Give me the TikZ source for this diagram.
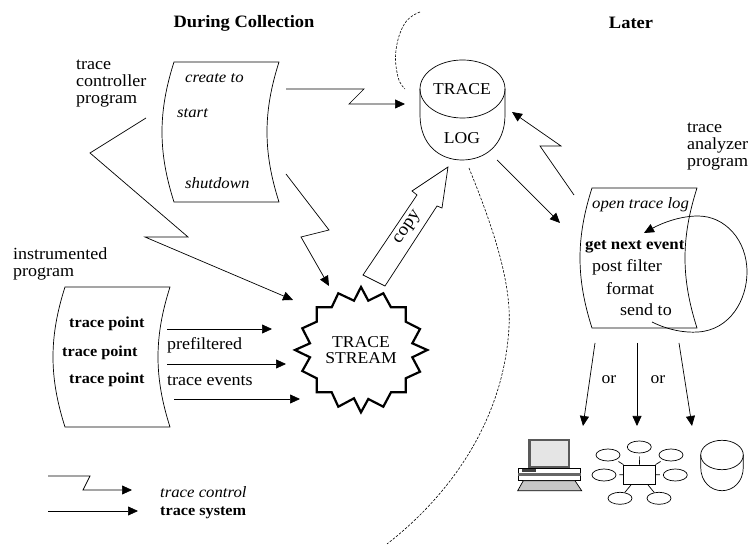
\documentclass[tikz,border=0pt]{standalone}
\usepackage{fontspec}
\setmainfont[FakeStretch=1.06]{Liberation Serif}
\usetikzlibrary{arrows.meta}
\usetikzlibrary{shapes.geometric}
\tikzset{
	lbl/.style={inner sep=0pt,anchor=west,align=left,font=\fontsize{17}{17}\selectfont},
	lblc/.style={inner sep=0pt,align=center,font=\fontsize{16.6}{16}\selectfont},
	lbli/.style={lbl,font=\fontsize{15.8}{17}\selectfont\itshape},
	lblb/.style={lbl,font=\fontsize{15.3}{17}\selectfont\bfseries},
	titulo/.style={inner sep=0pt,font=\fontsize{17.4}{17}\selectfont\bfseries},
	flecha/.style={line width=.7pt,-{Triangle[length=10pt,width=9pt]}},
	sat/.style={ellipse,draw,line width=.7pt,inner sep=0pt,minimum width=24pt,minimum height=12pt},
}
\newcommand{\docshape}[2]{%
	\draw[line width=.7pt,shift={(#1,#2)}] (0,0) -- (105,0) .. controls (89,50) and (89,90) .. (105,140) -- (0,140) .. controls (-16,90) and (-16,50) .. (0,0) -- cycle;}
\begin{document}
\begin{tikzpicture}[x=1pt,y=-1pt]
		\useasboundingbox (0,0) rectangle (753,545);
		\node[titulo] (during) at (244,23) {During Collection};
		\node[titulo] (later) at (631,23) {Later};
		\docshape{174}{62} % trace controller
		\docshape{65}{287} % instrumented
		\docshape{592}{188} % analyzer
		\node[lbl] (ctrlname) at (76,84) {trace\\controller\\program};
		\node[lbl] (instname) at (13,264) {instrumented\\program};
		\node[lbl] (ananame) at (687,147) {trace\\analyzer\\program};
		\node[lbli] (createto) at (185,78) {create to};
		\node[lbli] (start) at (177,113) {start};
		\node[lbli] (shutdown) at (185,183) {shutdown};
		\node[lblb] (pointa) at (69,324) {trace point};
		\node[lblb] (pointb) at (62,353) {trace point};
		\node[lblb] (pointc) at (69,380) {trace point};
		\node[lbl] (prefilt) at (167,345) {prefiltered};
		\node[lbl] (events) at (167,381) {trace events};
		\node[lbli] (opentrace) at (592,205) {open trace log};
		\node[lblb,font=\fontsize{15.9}{17}\selectfont\bfseries] (getnext) at (585,247) {get next event};
		\node[lbl] (postfilt) at (592,267) {post filter};
		\node[lbl] (format) at (606,289) {format};
		\node[lbl] (sendto) at (620,310) {send to};
		% trace log
		\draw[line width=.7pt] (420,89) -- (420,115) .. controls (420,145) and (440,160) .. (462,160) .. controls (485,160) and (505,145) .. (505,115) -- (505,89);
		\draw[line width=.7pt] (462.5,89) ellipse [x radius=42.5pt,y radius=29pt];
		\node[lblc] (tracetxt) at (462,89) {TRACE};
		\node[lblc] (logtxt) at (462,138) {LOG};
		% trace stream
		\draw[line width=2.2pt,line join=miter] plot coordinates {(361,287) (368.3,300.7) (383.3,293.3) (391,307.3) (405.7,307.3) (405.7,321.7) (420,329) (412.3,343.3) (427.3,350) (412.3,357.3) (420,371.7) (405.7,378.3) (405.7,392.3) (391,392.3) (383.3,406.7) (368.3,399) (361,412.3) (354,398.3) (338.3,406.7) (331.7,392.3) (316.7,392.3) (316.7,378.3) (302.3,371) (310,357.3) (295,350) (310,343.3) (302.3,328.3) (316.7,321.7) (316.7,307.3) (331.7,307.3) (338.3,293.3) (354,300.7)} -- cycle;
		\node[lblc] (stream) at (361,350) {TRACE\\STREAM};
		% ends of connectors
		\coordinate (ctrla) at (286,89);
		\coordinate (loga) at (405,104);
		\coordinate (ctrlb) at (146,118);
		\coordinate (stra) at (293,300);
		\coordinate (ctrlc) at (286,174);
		\coordinate (strb) at (329,286);
		\coordinate (anaa) at (574,195);
		\coordinate (logb) at (512,112);
		\coordinate (logc) at (497,160);
		\coordinate (anab) at (560,223);
		\draw[flecha] (ctrla) -- (364,89) -- (349,104) -- (loga);
		\draw[flecha] (ctrlb) -- (90,153) -- (188,237) -- (145,237) -- (stra);
		\draw[flecha] (ctrlc) -- (329,230) -- (301,237) -- (strb);
		\draw[flecha] (anaa) -- (540,146) -- (561,146) -- (logb);
		\draw[flecha] (logc) -- (anab);
		% prefiltered events
		\coordinate (insta) at (167,329);
		\coordinate (instb) at (167,364);
		\coordinate (instc) at (174,399);
		\coordinate (strc) at (272,329);
		\coordinate (strd) at (286,364);
		\coordinate (stre) at (300,399);
		\draw[flecha] (insta) -- (strc);
		\draw[flecha] (instb) -- (strd);
		\draw[flecha] (instc) -- (stre);
		% copy
		\draw[line width=.7pt] (363,275) -- (417,195) -- (412,191) -- (448,167) -- (442,208) -- (437,206) -- (385,286) -- cycle;
		\node[lblc,rotate=56,font=\fontsize{18}{18}\selectfont] (copytxt) at (408,228) {copy};
		% boundary
		\draw[line width=.6pt,dash pattern=on 2.5pt off 1.5pt] plot[smooth,tension=.7] coordinates {(420,12) (405,23) (396,50) (398,77) (405,89)};
		\draw[line width=.6pt,dash pattern=on 2.5pt off 1.5pt] (469,168) .. controls (490,220) and (512,280) .. (509,327) .. controls (504,420) and (450,495) .. (387,544);
		% get next event loop
		\draw[flecha] (652,322) .. controls (668,330) and (685,333) .. (698,332) .. controls (730,330) and (747,300) .. (747,272) .. controls (747,240) and (725,216) .. (698,216) .. controls (680,216) and (662,223) .. (644,233);
		% outputs
		\coordinate (outa) at (595,343);
		\coordinate (outb) at (637,343);
		\coordinate (outc) at (679,343);
		\coordinate (compa) at (583,426);
		\coordinate (neta) at (637,426);
		\coordinate (cyla) at (692,426);
		\draw[flecha] (outa) -- (compa);
		\draw[flecha] (outb) -- (neta);
		\draw[flecha] (outc) -- (cyla);
		\node[lblc] (ora) at (609,380) {or};
		\node[lblc] (orb) at (658,380) {or};
		% computer
		\fill[black!65] (528.3,439) rectangle (570,468);
		\fill[black!10] (530.5,441) rectangle (568,466);
		\draw[line width=.7pt,fill=white] (518,468) rectangle (580.7,480);
		\fill[black!60] (518,473) rectangle (580.7,476);
		\fill[black!75] (521.7,469.3) rectangle (536,471.7);
		\draw[line width=.7pt,fill=black!22] (523.3,480.7) -- (575,480.7) -- (581.7,490.7) -- (517.7,490.7) -- cycle;
		% network
		\node[draw,line width=.7pt,inner sep=0pt,minimum width=32.4pt,minimum height=19.3pt] (hub) at (639.5,474.6) {};
		\node[sat] (sata) at (639.3,447) {};
		\node[sat] (satb) at (608,455) {};
		\node[sat] (satc) at (671,455) {};
		\node[sat] (satd) at (604,475) {};
		\node[sat] (sate) at (675.3,475) {};
		\node[sat] (satf) at (620,498.3) {};
		\node[sat] (satg) at (659,498.3) {};
		\foreach \s in {a,b,c,d,e}
			\draw[line width=.7pt,shorten >=3pt] (hub) -- (sat\s);
		\foreach \s in {f,g}
			\draw[line width=.7pt] (hub) -- (sat\s);
		% small log
		\draw[line width=.7pt] (700.7,455) -- (700.7,467) .. controls (700.7,482) and (711,490.7) .. (722,490.7) .. controls (733,490.7) and (743.3,482) .. (743.3,467) -- (743.3,455);
		\draw[line width=.7pt] (722,455) ellipse [x radius=21.3pt,y radius=14.7pt];
		% key
		\coordinate (keya) at (48,476);
		\coordinate (keyb) at (132,490);
		\coordinate (keyc) at (48,511);
		\coordinate (keyd) at (138,511);
		\draw[flecha] (keya) -- (90,476) -- (83,490) -- (keyb);
		\draw[flecha] (keyc) -- (keyd);
		\node[lbli] (keyctrl) at (160,492) {trace control};
		\node[lblb] (keysys) at (160,513) {trace system};
		\end{tikzpicture}
\end{document}
